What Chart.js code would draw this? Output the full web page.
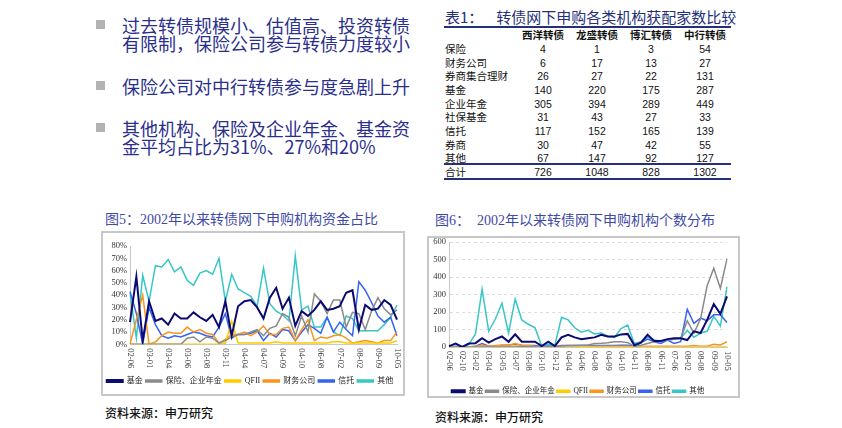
<!DOCTYPE html>
<html>
<head>
<meta charset="utf-8">
<script src="https://cdn.jsdelivr.net/npm/chart.js@4.4.0/dist/chart.umd.min.js"></script>
<style>
  body { margin: 0; width: 842px; height: 428px; background: #fff; position: relative; overflow: hidden;
         font-family: "Noto Sans CJK SC", sans-serif; }
  .abs { position: absolute; white-space: nowrap; }
  .bullet { position: absolute; width: 9px; height: 9px; background: #b3b3b3; left: 96px; }
  .btext { position: absolute; left: 122px; font-size: 18px; line-height: 18px; color: #2b2f8c; }
  .tcell { position: absolute; font-size: 10.5px; line-height: 12px; color: #111;
           font-family: "Liberation Sans", "Noto Sans CJK SC", sans-serif; }
  .rule { position: absolute; left: 444px; width: 287px; height: 2px; background: #26307a; }
  .ctitle { position: absolute; font-size: 14px; color: #3f4aa6; white-space: nowrap;
            font-family: "Liberation Serif", "Noto Sans CJK SC", serif; }
  .src { position: absolute; font-size: 12px; color: #111; font-weight: 500; white-space: nowrap; }
  .box { position: absolute; border: 2px solid #c8c8c8; box-sizing: border-box; }
  .box canvas { position: absolute; left: 0; }
</style>
</head>
<body>

<div class="bullet" style="top:20px"></div>
<div class="btext" style="top:16px">过去转债规模小、估值高、投资转债</div>
<div class="btext" style="top:34px">有限制，保险公司参与转债力度较小</div>
<div class="bullet" style="top:81px"></div>
<div class="btext" style="top:77px">保险公司对中行转债参与度急剧上升</div>
<div class="bullet" style="top:123px"></div>
<div class="btext" style="top:119px">其他机构、保险及企业年金、基金资</div>
<div class="btext" style="top:137px">金平均占比为31%、27%和20%</div>

<div class="abs" style="left:445px;top:6px;font-size:15px;color:#26307a;">表1：<span style="margin-left:13px">转债网下申购各类机构获配家数比较</span></div>
<div class="rule" style="top:26px"></div>
<div class="rule" style="top:163px"></div>
<div class="rule" style="top:178px"></div>
<div id="table"></div>

<div class="ctitle" style="left:105px;top:208px">图5：2002年以来转债网下申购机构资金占比</div>
<div class="ctitle" style="left:435px;top:209px">图6：　2002年以来转债网下申购机构个数分布</div>

<div class="box" style="left:101px;top:231px;width:304px;height:165px">
  <canvas id="shareChart" width="300" height="162" style="top:0"></canvas>
</div>
<div class="box" style="left:427px;top:236px;width:313px;height:162px">
  <canvas id="countChart" width="309" height="171" style="top:-4px"></canvas>
</div>

<div class="src" style="left:105px;top:404px">资料来源：申万研究</div>
<div class="src" style="left:435px;top:408px">资料来源：申万研究</div>

<script>
// ---- table 1 ----
const bondNames = ['西洋转债', '龙盛转债', '博汇转债', '中行转债'];
const instNames = ['保险', '财务公司', '券商集合理财', '基金', '企业年金', '社保基金', '信托', '券商', '其他'];
const xiyang  = [4, 6, 26, 140, 305, 31, 117, 30, 67];
const longsheng = [1, 17, 27, 220, 394, 43, 152, 47, 147];
const bohui   = [3, 13, 22, 175, 289, 27, 165, 42, 92];
const zhonghang = [54, 27, 131, 287, 449, 33, 139, 55, 127];
const totals  = [726, 1048, 828, 1302];

// ---- chart 5: share of funds (%) ----
const shareLabels = ['02-06','','','03-01','','','03-04','','','03-06','','','03-08','','','03-11','','',
  '04-04','','','04-07','','','04-09','','','04-10','','','06-08','','','07-02','','','08-02','','','09-09','','','10-05'];
const shareFund  = [18,55,3,35,19,21,16,25,21,21,26,22,19,24,14,35,7,31,35,36,30,21,38,46,29,38,15,27,23,28,35,28,29,31,42,44,12,32,28,29,36,32,20];
const shareIns   = [0,0,0,0,0,0,0,0,0,5,6,2,6,5,1,3,6,8,8,10,12,7,13,15,25,22,7,23,10,41,35,25,36,36,14,26,25,12,27,38,29,24,28];
const shareQfii  = [0,0,0,0,0,0,0,0,0,0,0,0,0,0,0,1,19,1,1,1,1,1,1,2,1,1,1,1,1,1,1,1,2,2,1,1,1,1,1,1,1,1,3];
const shareFin   = [0,20,40,0,2,7,10,9,9,14,10,12,9,8,1,4,8,8,10,7,10,15,8,8,13,14,3,12,20,3,6,5,7,8,5,1,2,3,2,1,3,3,10];
const shareTrust = [43,25,0,30,16,7,5,7,6,8,10,9,7,6,14,25,5,8,8,9,11,3,9,6,12,11,3,10,16,13,9,22,10,18,12,7,51,44,34,23,18,22,7];
const shareOther = [42,5,56,35,64,63,69,59,63,52,48,58,60,57,70,35,57,45,42,39,31,62,33,27,24,19,72,28,31,14,14,22,10,7,23,21,11,11,11,11,16,22,32];

// ---- chart 6: number of institutions ----
const countLabels = ['02-06','','02-10','','03-02','','03-04','','03-05','','03-07','','03-08','','03-10','',
  '03-12','','04-04','','04-06','','04-08','','04-09','','04-10','','04-11','','06-08','','06-11','',
  '07-06','','08-02','','08-08','','09-09','','10-05'];
const countFund  = [5,20,0,20,22,50,25,45,60,30,73,30,30,30,5,30,5,55,70,55,45,50,55,70,60,60,72,75,10,25,70,35,35,45,50,50,40,90,80,155,245,190,290];
const countIns   = [0,0,0,0,0,0,0,0,0,0,0,2,2,2,0,2,0,5,8,8,10,12,20,22,25,30,30,25,5,10,20,30,35,40,45,50,150,80,160,350,450,335,505];
const countQfii  = [0,0,0,0,0,0,0,0,2,2,5,2,2,2,0,0,2,2,2,2,2,0,0,0,0,0,0,0,0,0,0,0,0,0,0,0,0,0,0,0,0,0,0];
const countFin   = [0,0,0,0,5,10,5,8,10,10,20,10,8,5,0,2,2,5,5,5,5,5,5,5,5,5,5,5,2,3,5,5,5,5,5,5,5,8,5,5,15,12,30];
const countTrust = [0,0,0,0,5,20,5,5,10,10,15,10,8,8,2,5,3,8,8,8,8,8,8,8,8,8,10,10,5,25,45,30,20,40,20,30,215,135,165,150,185,185,140];
const countOther = [0,5,0,15,75,330,90,160,250,80,275,155,130,110,5,15,10,170,155,110,85,95,75,80,60,55,105,125,20,30,55,40,35,40,45,50,95,55,80,90,175,120,345];

const seriesNames  = ['基金', '保险、企业年金', 'QFII', '财务公司', '信托', '其他'];
const seriesColors = ['#0b0b72', '#8a8a8a', '#ffcc00', '#f7961e', '#3763f0', '#38c6c6'];
const seriesWidths = [2, 1.5, 1.5, 1.5, 1.5, 1.5];

const serif = '"Liberation Serif", "Noto Sans CJK SC", serif';

function buildTable() {
  const el = document.getElementById('table');
  const colX = [543, 597, 651, 705];
  const cols = [xiyang, longsheng, bohui, zhonghang];
  let html = '';
  bondNames.forEach((n, c) => {
    html += `<div class="tcell" style="left:${colX[c] - 30}px;width:60px;text-align:center;top:29px;font-weight:bold">${n}</div>`;
  });
  instNames.forEach((n, r) => {
    const y = 43 + r * 13.65;
    html += `<div class="tcell" style="left:445px;top:${y}px">${n}</div>`;
    cols.forEach((col, c) => {
      html += `<div class="tcell" style="left:${colX[c] - 30}px;width:60px;text-align:center;top:${y}px">${col[r]}</div>`;
    });
  });
  html += `<div class="tcell" style="left:445px;top:166px">合计</div>`;
  totals.forEach((t, c) => {
    html += `<div class="tcell" style="left:${colX[c] - 30}px;width:60px;text-align:center;top:166px">${t}</div>`;
  });
  el.innerHTML = html;
}

// x labels drawn rotated clockwise (read top to bottom), like the source
const verticalTicks = {
  id: 'verticalTicks',
  afterDraw(chart) {
    const xs = chart.scales.x;
    const ctx = chart.ctx;
    ctx.save();
    ctx.font = '8.5px ' + serif;
    ctx.fillStyle = '#333';
    ctx.textAlign = 'left';
    ctx.textBaseline = 'middle';
    chart.data.labels.forEach((lab, i) => {
      if (!lab) return;
      const x = xs.getPixelForValue(i);
      ctx.save();
      ctx.translate(x, xs.top + 4);
      ctx.rotate(Math.PI / 2);
      ctx.fillText(lab, 0, 0);
      ctx.restore();
    });
    ctx.restore();
  }
};

function makeDatasets(values) {
  return values.map((v, i) => ({
    label: seriesNames[i],
    data: v,
    borderColor: seriesColors[i],
    backgroundColor: seriesColors[i],
    borderWidth: seriesWidths[i],
    pointRadius: 0,
    tension: 0
  }));
}

function makeChart(id, labels, values, opt) {
  return new Chart(document.getElementById(id), {
    type: 'line',
    data: { labels: labels, datasets: makeDatasets(values) },
    options: {
      responsive: false,
      animation: false,
      layout: { padding: opt.padding },
      plugins: {
        legend: {
          position: 'bottom',
          labels: {
            boxWidth: opt.boxWidth,
            boxHeight: 2,
            padding: opt.legendPad,
            color: '#222',
            font: { family: serif, size: opt.legendFont }
          }
        },
        tooltip: { enabled: false }
      },
      scales: {
        x: {
          grid: { display: false },
          border: { color: '#c8c8c8' },
          ticks: { display: false },
          afterFit: s => { s.height = opt.xHeight; }
        },
        y: {
          min: 0, max: opt.max,
          grid: { display: opt.grid, color: '#dcdcdc', drawTicks: false },
          border: { color: '#c8c8c8', dash: opt.dash },
          ticks: {
            stepSize: opt.step, autoSkip: false, padding: 3, color: '#333',
            font: { family: serif, size: 8.5 },
            callback: opt.tick
          },
          afterFit: s => { s.width = opt.yWidth; }
        }
      }
    },
    plugins: [verticalTicks]
  });
}

buildTable();

makeChart('shareChart', shareLabels,
  [shareFund, shareIns, shareQfii, shareFin, shareTrust, shareOther],
  { padding: { left: 0, right: 6, top: 13, bottom: 0 }, yWidth: 27, xHeight: 29.7, max: 80, step: 10,
    grid: false, dash: [], tick: v => v + '%', boxWidth: 16, legendPad: 3, legendFont: 8 });

makeChart('countChart', countLabels,
  [countFund, countIns, countQfii, countFin, countTrust, countOther],
  { padding: { left: 0, right: 11, top: 5, bottom: 0 }, yWidth: 20, xHeight: 38.5, max: 600, step: 100,
    grid: true, dash: [3, 3], tick: v => v, boxWidth: 13, legendPad: 2, legendFont: 7.5 });
</script>
</body>
</html>
